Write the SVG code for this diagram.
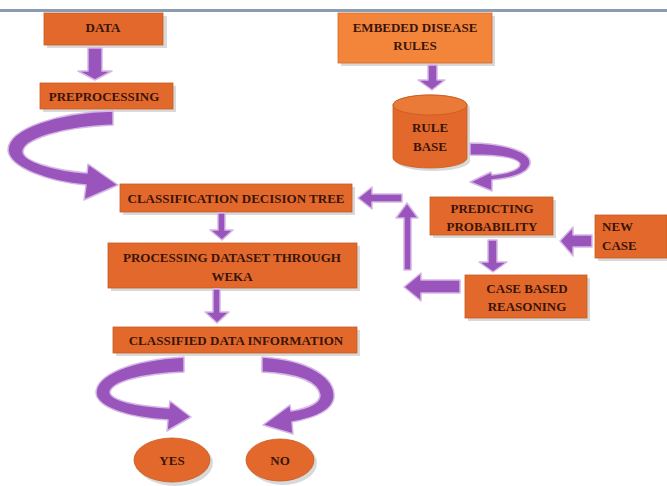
<svg xmlns="http://www.w3.org/2000/svg" width="667" height="486" viewBox="0 0 667 486">
<style>
.box{fill:#e2692b;stroke:#c85a20;stroke-width:0.8}
.box2{fill:#f2853a;stroke:#d86a28;stroke-width:0.8}
.sh{fill:#cfcfcf;opacity:0.8}
.t{font-family:"Liberation Serif","Times New Roman",serif;font-weight:bold;font-size:13px;fill:#3a140a;text-anchor:middle}
.tl{text-anchor:start}
.arr{fill:#9a55bc;stroke:#d6b6e6;stroke-width:1.5;stroke-linejoin:round}
</style>
<rect width="667" height="486" fill="#ffffff"/>
<line x1="0" y1="10.5" x2="667" y2="10.5" stroke="#8a9cb2" stroke-width="3"/>

<g id="data"><rect class="sh" x="47" y="16" width="120" height="32"/><rect class="box" x="44" y="13" width="119" height="32"/><text class="t" x="103" y="32">DATA</text></g>
<g id="preprocessing"><rect class="sh" x="43" y="86" width="133" height="26"/><rect class="box" x="40" y="83" width="133" height="26"/><text class="t" x="104" y="101">PREPROCESSING</text></g>
<g id="classification"><rect class="sh" x="123" y="187" width="232" height="28"/><rect class="box" x="120" y="184" width="232" height="28"/><text class="t" x="236" y="203">CLASSIFICATION DECISION TREE</text></g>
<g id="weka"><rect class="sh" x="111" y="246" width="249" height="45"/><rect class="box" x="108" y="243" width="249" height="45"/><text class="t" x="232" y="262">PROCESSING DATASET THROUGH</text><text class="t" x="232" y="281">WEKA</text></g>
<g id="classified"><rect class="sh" x="116" y="330" width="244" height="26"/><rect class="box" x="113" y="327" width="244" height="26"/><text class="t" x="236" y="345">CLASSIFIED DATA INFORMATION</text></g>
<g id="yes"><ellipse class="sh" cx="175" cy="463" rx="38" ry="23"/><ellipse class="box" cx="172" cy="460" rx="38" ry="22"/><text class="t" x="172" y="465">YES</text></g>
<g id="no"><ellipse class="sh" cx="283" cy="463" rx="34" ry="22"/><ellipse class="box" cx="280" cy="460" rx="34" ry="21"/><text class="t" x="280" y="465">NO</text></g>
<g id="embeded"><rect class="sh" x="341" y="16" width="154" height="50"/><rect class="box2" x="338" y="13" width="154" height="50"/><text class="t" x="415" y="32">EMBEDED DISEASE</text><text class="t" x="415" y="50">RULES</text></g>
<g id="rulebase"><path class="sh" d="M396,108 A37,10 0 0 1 470,108 L470,161 A37,10 0 0 1 396,161 Z"/><path class="box" d="M393,105 A37,10 0 0 1 467,105 L467,158 A37,10 0 0 1 393,158 Z"/><ellipse cx="430" cy="105" rx="37" ry="10" fill="#ea7a38" stroke="#c85a20" stroke-width="0.8"/><text class="t" x="430" y="132">RULE</text><text class="t" x="430" y="151">BASE</text></g>
<g id="predicting"><rect class="sh" x="433" y="200" width="123" height="38"/><rect class="box" x="430" y="197" width="123" height="38"/><text class="t" x="492" y="213">PREDICTING</text><text class="t" x="492" y="231">PROBABILITY</text></g>
<g id="newcase"><rect class="sh" x="598" y="218" width="72" height="43"/><rect class="box" x="595" y="215" width="72" height="43"/><text class="t tl" x="602" y="231">NEW</text><text class="t tl" x="602" y="250">CASE</text></g>
<g id="casebased"><rect class="sh" x="468" y="278" width="122" height="43"/><rect class="box" x="465" y="275" width="122" height="43"/><text class="t" x="527" y="293">CASE BASED</text><text class="t" x="527" y="311">REASONING</text></g>

<g id="connectors">
<path class="arr" d="M88,48 L102,48 L102,71 L112,71 L95,80 L78,71 L88,71 Z"/>
<path class="arr" d="M428,65 L437,65 L437,80 L445,80 L432,90 L418,80 L428,80 Z"/>
<path class="arr" d="M218,213 L225,213 L225,230 L233,230 L222,240 L210,230 L218,230 Z"/>
<path class="arr" d="M213,289 L220,289 L220,312 L229,312 L217,323 L205,312 L213,312 Z"/>
<path class="arr" d="M488,240 L497,240 L497,262 L507,262 L493,272 L479,262 L488,262 Z"/>
<path class="arr" d="M592,235 L592,247 L573,247 L573,256 L560,241 L573,227 L573,235 Z"/>
<path class="arr" d="M460,280 L460,293 L421,293 L421,301 L404,287 L421,273 L421,280 Z"/>
<path class="arr" d="M404,270 L411,270 L411,218 L418,218 L407,203 L396,218 L404,218 Z"/>
<path class="arr" d="M402,194 L402,202 L372,202 L372,209 L358,198 L372,187 L372,194 Z"/>
<path class="arr" d="M113,111 C60,112 8,128 8,150 C9,168 50,182 86,185 L84,200 L118,185 L88,164 L87,173 C52,170 24,161 23,152 C23,140 60,127 113,125 Z"/>
<path class="arr" d="M184,357 C130,360 96,375 96,393 C97,408 130,418 168,420 L167,431 L191,417 L170,401 L169,408 C135,406 110,400 110,392 C112,382 140,374 184,372 Z"/>
<path class="arr" d="M262,357 C310,360 336,378 334,398 C332,410 315,418 292,422 L293,434 L263,425 L290,405 L291,411 C310,408 320,402 320,395 C318,383 300,374 262,372 Z"/>
<path class="arr" d="M470,143 C505,143 532,152 530,164 C528,172 515,178 492,180 L492,191 L470,182 L491,172 L492,175 C510,173 520,169 520,164 C518,158 500,155 470,155 Z"/>
</g>
</svg>
